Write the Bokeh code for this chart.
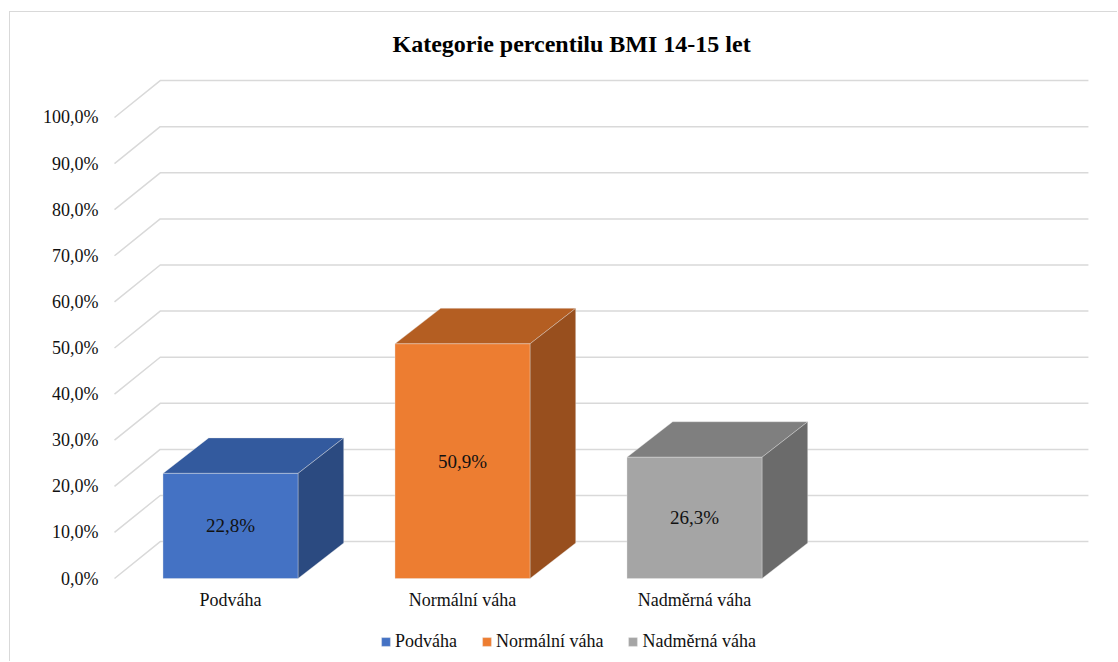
from bokeh.plotting import figure
from bokeh.models import (FixedTicker, Legend, LegendItem, Range1d, ColumnDataSource)
from bokeh.core.properties import value
from bokeh.embed import file_html
from bokeh.resources import INLINE

# ---- data ----
categories = ["Podváha", "Normální váha", "Nadměrná váha"]
values = [22.8, 50.9, 26.3]
value_labels = ["22,8%", "50,9%", "26,3%"]
tick_values = [0, 10, 20, 30, 40, 50, 60, 70, 80, 90, 100]
tick_labels = ["0,0%", "10,0%", "20,0%", "30,0%", "40,0%", "50,0%",
               "60,0%", "70,0%", "80,0%", "90,0%", "100,0%"]
title_text = "Kategorie percentilu BMI 14-15 let"

front_colors = ["#4472C4", "#ED7D31", "#A5A5A5"]
top_colors = ["#335A9E", "#B45E22", "#7F7F7F"]
side_colors = ["#2B4A80", "#984F1E", "#6B6B6B"]

# ---- geometry (data units) ----
BAR_W = 0.582
DX = 0.197      # depth offset in x (category units)
DY_BAR = 7.7    # depth offset in y (percent units)
DY_GRID = 8.0
GRID_X0 = -0.5
GRID_X1 = 3.698
CAT_LABEL_Y = -4.77

FONT = "Liberation Serif"

p = figure(width=1108, height=650, output_backend="svg", toolbar_location=None,
           x_range=Range1d(-0.53879, 3.75), y_range=Range1d(-18.22, 112.36),
           min_border_left=95, min_border_right=18, min_border_top=48,
           min_border_bottom=0)
p.styles = {"margin-left": "9px", "margin-top": "11px",
            "border-left": "1px solid #D9D9D9", "border-top": "1px solid #D9D9D9"}
p.outline_line_color = None
p.xgrid.visible = False
p.ygrid.visible = False
p.xaxis.visible = False
p.background_fill_color = "white"
p.border_fill_color = "white"

# title
p.title.text = title_text
p.title.text_font = FONT
p.title.text_font_size = "24px"
p.title.text_font_style = "bold"
p.title.text_color = "#000000"
p.title.align = "left"
p.title.offset = 287
p.title.standoff = 8

# 3D gridlines
gx, gy = [], []
for v in tick_values:
    gx.append([GRID_X0, GRID_X0 + DX, GRID_X1])
    gy.append([v, v + DY_GRID, v + DY_GRID])
p.multi_line(gx, gy, line_color="#D9D9D9", line_width=1.5)

# bars
legend_items = []
for i, (cat, v) in enumerate(zip(categories, values)):
    l = i - BAR_W / 2
    r = i + BAR_W / 2
    p.patch([l, l + DX, r + DX, r], [v, v + DY_BAR, v + DY_BAR, v],
            fill_color=top_colors[i], line_color="#E8E8E8", line_width=0.6, line_alpha=0.6)
    p.patch([r, r + DX, r + DX, r], [0, DY_BAR, v + DY_BAR, v],
            fill_color=side_colors[i], line_color="#E8E8E8", line_width=0.6, line_alpha=0.6)
    front = p.quad(left=[l], right=[r], bottom=[0], top=[v],
                   fill_color=front_colors[i], line_color="#E8E8E8", line_width=0.6, line_alpha=0.6)
    legend_items.append(LegendItem(label=cat, renderers=[front]))

# data labels
src = ColumnDataSource(dict(x=list(range(len(values))), y=[v / 2 for v in values], t=value_labels))
p.text(x="x", y="y", text="t", source=src, text_align="center", text_baseline="middle",
       text_font=value(FONT), text_font_size="19px", text_color="#111111")

# category labels
csrc = ColumnDataSource(dict(x=list(range(len(categories))),
                             y=[CAT_LABEL_Y] * len(categories), t=categories))
p.text(x="x", y="y", text="t", source=csrc, text_align="center", text_baseline="middle",
       text_font=value(FONT), text_font_size="18px", text_color="#111111")

# y axis
yax = p.yaxis[0]
yax.ticker = FixedTicker(ticks=tick_values)
yax.major_label_overrides = {t: s for t, s in zip(tick_values, tick_labels)}
yax.axis_line_color = None
yax.major_tick_line_color = None
yax.minor_tick_line_color = None
yax.major_tick_out = 0
yax.major_tick_in = 0
yax.major_label_standoff = 7
yax.major_label_text_font = FONT
yax.major_label_text_font_size = "18px"
yax.major_label_text_color = "#111111"

legend = Legend(items=legend_items, orientation="horizontal", location=(275, 10),
                label_text_font=FONT, label_text_font_size="18px", label_text_color="#111111",
                glyph_width=11, glyph_height=11, label_standoff=4, spacing=24,
                padding=2, margin=0, border_line_color=None, background_fill_alpha=0)
p.add_layout(legend, "center")

open("out.html", "w").write(file_html(p, INLINE))
